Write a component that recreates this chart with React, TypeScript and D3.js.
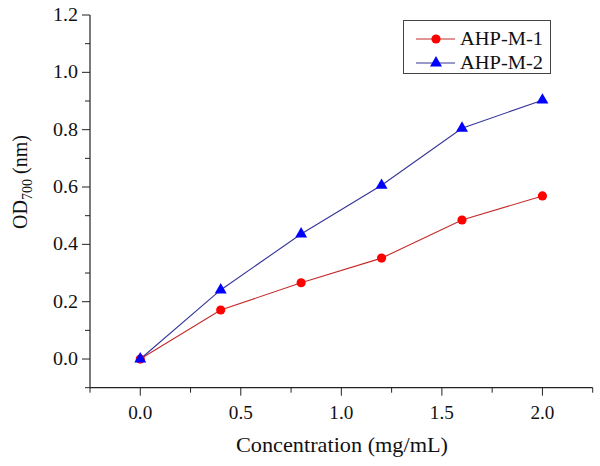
import React from "react";
import * as d3 from "d3";

const concentrations = [0, 0.4, 0.8, 1.2, 1.6, 2.0];
const ahpM1 = [0.0, 0.171, 0.266, 0.352, 0.485, 0.569];
const ahpM2 = [0.0, 0.241, 0.436, 0.606, 0.805, 0.903];
const seriesNames = ["AHP-M-1", "AHP-M-2"];
const xTicks = [0, 0.5, 1.0, 1.5, 2.0];
const xMinorTicks = [-0.25, 0.25, 0.75, 1.25, 1.75, 2.25];
const yTicks = [0, 0.2, 0.4, 0.6, 0.8, 1.0, 1.2];
const yMinorTicks = [-0.1, 0.1, 0.3, 0.5, 0.7, 0.9, 1.1];

const FONT = "Liberation Serif, Times New Roman, DejaVu Serif, serif";
const txt = { fontFamily: FONT };

export default function App() {
  const W = 600, H = 466;
  const x = d3.scaleLinear().domain([-0.25, 2.25]).range([90, 592.7]);
  const y = d3.scaleLinear().domain([-0.1, 1.2]).range([387.7, 15]);

  const line = d3
    .line<number>()
    .x((_, i) => x(concentrations[i]))
    .y((d) => y(d));

  const tri = d3.symbol().type(d3.symbolTriangle).size(62)() as string;
  const x0 = x(-0.25), y0 = y(-0.1);

  return (
    <svg width={W} height={H} style={{ position: "absolute", left: 0, top: 0, background: "#fff" }}>
      <rect x={0} y={0} width={W} height={H} fill="#fff" />
      {/* axes */}
      <line x1={x0} y1={y(1.2)} x2={x0} y2={y0} stroke="#222" strokeWidth={1.2} />
      <line x1={x0} y1={y0} x2={x(2.25)} y2={y0} stroke="#222" strokeWidth={1.2} />
      {yTicks.map((t) => (
        <g key={"yt" + t}>
          <line x1={x0 - 8} x2={x0} y1={y(t)} y2={y(t)} stroke="#222" strokeWidth={1} />
          <text x={x0 - 12} y={y(t) + 6} textAnchor="end" fontSize={18} fill="#111" style={txt}
            textLength={25} lengthAdjust="spacingAndGlyphs">
            {t.toFixed(1)}
          </text>
        </g>
      ))}
      {yMinorTicks.map((t) => (
        <line key={"ym" + t} x1={x0 - 5} x2={x0} y1={y(t)} y2={y(t)} stroke="#222" strokeWidth={1} />
      ))}
      {xTicks.map((t) => (
        <g key={"xt" + t}>
          <line x1={x(t)} x2={x(t)} y1={y0} y2={y0 + 8} stroke="#222" strokeWidth={1} />
          <text x={x(t)} y={419} textAnchor="middle" fontSize={18} fill="#111" style={txt}
            textLength={24} lengthAdjust="spacingAndGlyphs">
            {t.toFixed(1)}
          </text>
        </g>
      ))}
      {xMinorTicks.map((t) => (
        <line key={"xm" + t} x1={x(t)} x2={x(t)} y1={y0} y2={y0 + 5} stroke="#222" strokeWidth={1} />
      ))}
      {/* axis titles */}
      <text x={342} y={452} textAnchor="middle" fontSize={21} fill="#111" style={txt}
        textLength={212} lengthAdjust="spacingAndGlyphs">
        Concentration (mg/mL)
      </text>
      <text transform={`translate(27,182) rotate(-90)`} textAnchor="middle" fontSize={20} fill="#111" style={txt}>
        OD<tspan dy={5} fontSize={14}>700</tspan><tspan dy={-5}> (nm)</tspan>
      </text>
      {/* lines */}
      <path d={line(ahpM1) as string} fill="none" stroke="#c42a2a" strokeWidth={1.1} />
      <path d={line(ahpM2) as string} fill="none" stroke="#34349a" strokeWidth={1.1} />
      {ahpM1.map((v, i) => (
        <circle key={"c" + i} cx={x(concentrations[i])} cy={y(v)} r={4.6} fill="#ff0000" />
      ))}
      {ahpM2.map((v, i) => (
        <path key={"t" + i} d={tri} transform={`translate(${x(concentrations[i])},${y(v)})`} fill="#0000ff" />
      ))}
      {/* legend */}
      <rect x={403.5} y={20.5} width={147} height={53} fill="#fff" stroke="#444" strokeWidth={1} />
      <line x1={416} x2={455} y1={39} y2={39} stroke="#c42a2a" strokeWidth={1.1} />
      <circle cx={436} cy={39} r={4.6} fill="#ff0000" />
      <text x={460} y={45} fontSize={19} fill="#111" style={txt} textLength={83} lengthAdjust="spacingAndGlyphs">{seriesNames[0]}</text>
      <line x1={416} x2={455} y1={63} y2={63} stroke="#34349a" strokeWidth={1.1} />
      <path d={tri} transform="translate(436,63)" fill="#0000ff" />
      <text x={460} y={69} fontSize={19} fill="#111" style={txt} textLength={83} lengthAdjust="spacingAndGlyphs">{seriesNames[1]}</text>
    </svg>
  );
}
